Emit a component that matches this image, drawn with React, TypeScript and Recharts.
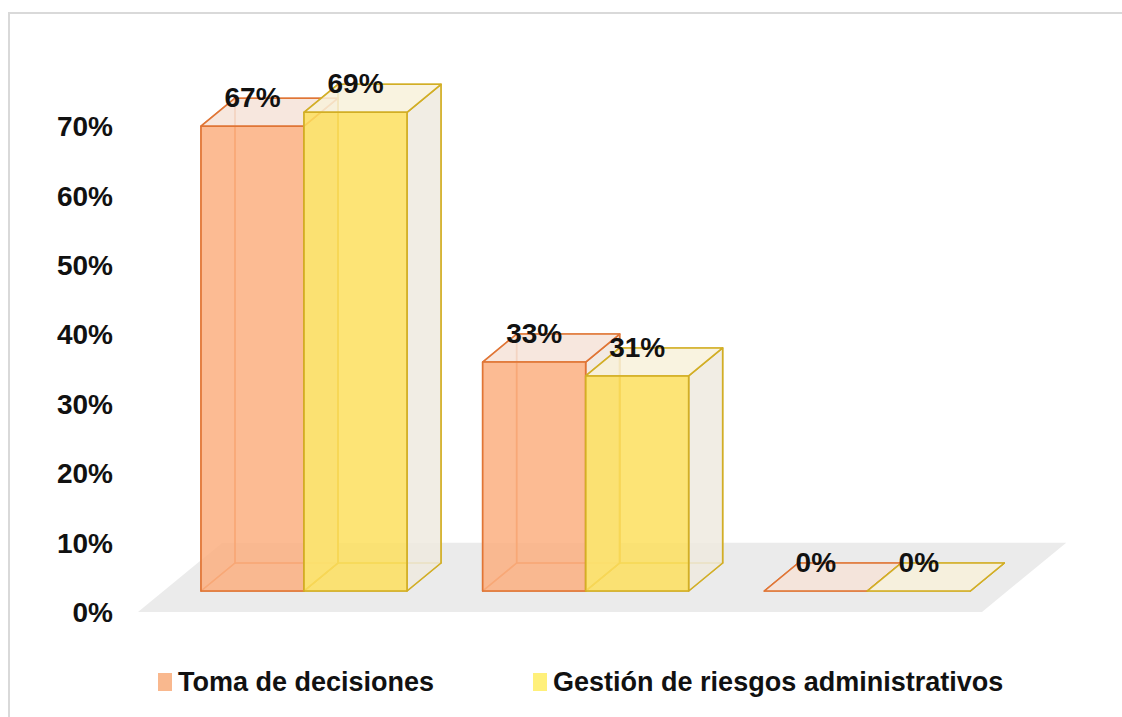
import { BarChart, Bar, XAxis, YAxis, Legend, LabelList, ReferenceArea } from 'recharts';

const categories = ['Categoría 1', 'Categoría 2', 'Categoría 3'];
const tomaDecisiones = [67, 33, 0];
const gestionRiesgos = [69, 31, 0];
const yTicks = [0, 10, 20, 30, 40, 50, 60, 70];

const data = categories.map((name, i) => ({
  name,
  toma: tomaDecisiones[i],
  gestion: gestionRiesgos[i],
}));

const series = [
  { key: 'toma', name: 'Toma de decisiones', front: '#FBAF80', edge: '#E07535', top: '#F6E3D8', side: '#F0E6DE', swatch: '#F9B88E' },
  { key: 'gestion', name: 'Gestión de riesgos administrativos', front: '#FDDF5E', edge: '#D2AE25', top: '#F8F1DA', side: '#EEEADF', swatch: '#FFF07A' },
];

const FONT = '"Liberation Sans", Arial, sans-serif';
const FONT_SIZE = 28;
// 3D projection: depth offset of the box and how far bars sit behind the floor's front edge
const DX = 34;
const DY = 28;
const INSET = 21;

const pts = (arr: number[][]) => arr.map((p) => p.join(',')).join(' ');

function Box3D(props: any) {
  const { x, y, width, height, s } = props;
  const w = width;
  const h = Math.max(height || 0, 0);
  const fx = x;
  const fy = y - INSET;
  const bx = fx + DX;
  const by = fy - DY;
  return (
    <g stroke={s.edge} strokeWidth={1.6} strokeLinejoin="round">
      {/* hidden faces, only edges show through */}
      <rect x={bx} y={by} width={w} height={h} fill="none" strokeOpacity={0.75} />
      <polygon points={pts([[fx, fy], [bx, by], [bx, by + h], [fx, fy + h]])} fill="none" strokeOpacity={0.75} />
      <polygon points={pts([[fx, fy + h], [fx + w, fy + h], [bx + w, by + h], [bx, by + h]])} fill="none" strokeOpacity={0.75} />
      {/* visible faces */}
      <polygon points={pts([[fx + w, fy], [bx + w, by], [bx + w, by + h], [fx + w, fy + h]])} fill={s.side} fillOpacity={0.85} />
      <polygon points={pts([[fx, fy], [fx + w, fy], [bx + w, by], [bx, by]])} fill={s.top} fillOpacity={0.85} />
      <rect x={fx} y={fy} width={w} height={h} fill={s.front} fillOpacity={0.85} />
    </g>
  );
}

function Floor(props: any) {
  const { x, y, width, height } = props;
  const depthX = (height * DX) / DY;
  const left = x - 25;
  const right = x + width - 26;
  const bottom = y + height;
  return (
    <polygon
      points={pts([[left, bottom], [right, bottom], [right + depthX, y], [left + depthX, y]])}
      fill="#EBEBEB"
      stroke="none"
    />
  );
}

const renderValue = (props: any) => {
  const vb = props.viewBox && props.viewBox.width != null ? props.viewBox : props;
  const { x, y, width } = vb;
  return (
    <text
      x={x + width / 2}
      y={y - INSET - 29}
      dy="0.35em"
      textAnchor="middle"
      fill="#111"
      fontFamily={FONT}
      fontWeight="bold"
      fontSize={FONT_SIZE}
    >
      {props.value}%
    </text>
  );
};

const renderLegend = () => (
  <div
    style={{
      display: 'flex',
      alignItems: 'center',
      paddingLeft: 158,
      height: 30,
      fontFamily: FONT,
      fontWeight: 'bold',
      fontSize: 27,
      color: '#111',
    }}
  >
    {series.map((s, i) => (
      <div key={s.key} style={{ display: 'flex', alignItems: 'center', marginRight: i === 0 ? 99 : 0 }}>
        <span style={{ display: 'inline-block', width: 14, height: 18, background: s.swatch, marginRight: 6 }} />
        <span>{s.name}</span>
      </div>
    ))}
  </div>
);

export default function App() {
  return (
    <div style={{ position: 'absolute', left: 0, top: 0, width: 1122, height: 717, background: '#fff', overflow: 'hidden' }}>
      <div
        style={{
          position: 'absolute',
          left: 8,
          top: 12,
          right: -10,
          bottom: -10,
          borderTop: '2px solid #D9D9D9',
          borderLeft: '2px solid #D9D9D9',
        }}
      />
      <BarChart
        width={1122}
        height={717}
        data={data}
        margin={{ top: 57, right: 114, left: 63, bottom: 75 }}
        barSize={103}
        barGap={0}
      >
        <XAxis dataKey="name" hide />
        <YAxis
          domain={[0, 80]}
          ticks={yTicks}
          width={100}
          axisLine={false}
          tickLine={false}
          tickSize={0}
          tickMargin={50}
          tickFormatter={(v) => `${v}%`}
          tick={{ fontSize: FONT_SIZE, fontWeight: 'bold', fill: '#111', fontFamily: FONT }}
        />
        <ReferenceArea y1={0} y2={10} shape={Floor} ifOverflow="visible" />
        {series.map((s) => (
          <Bar
            key={s.key}
            dataKey={s.key}
            name={s.name}
            fill={s.front}
            isAnimationActive={false}
            shape={(p: any) => <Box3D {...p} s={s} />}
          >
            <LabelList dataKey={s.key} content={renderValue} />
          </Bar>
        ))}
        <Legend
          verticalAlign="bottom"
          content={renderLegend}
          wrapperStyle={{ left: 0, top: 667, bottom: 'auto', width: 1122, height: 30 }}
        />
      </BarChart>
    </div>
  );
}
